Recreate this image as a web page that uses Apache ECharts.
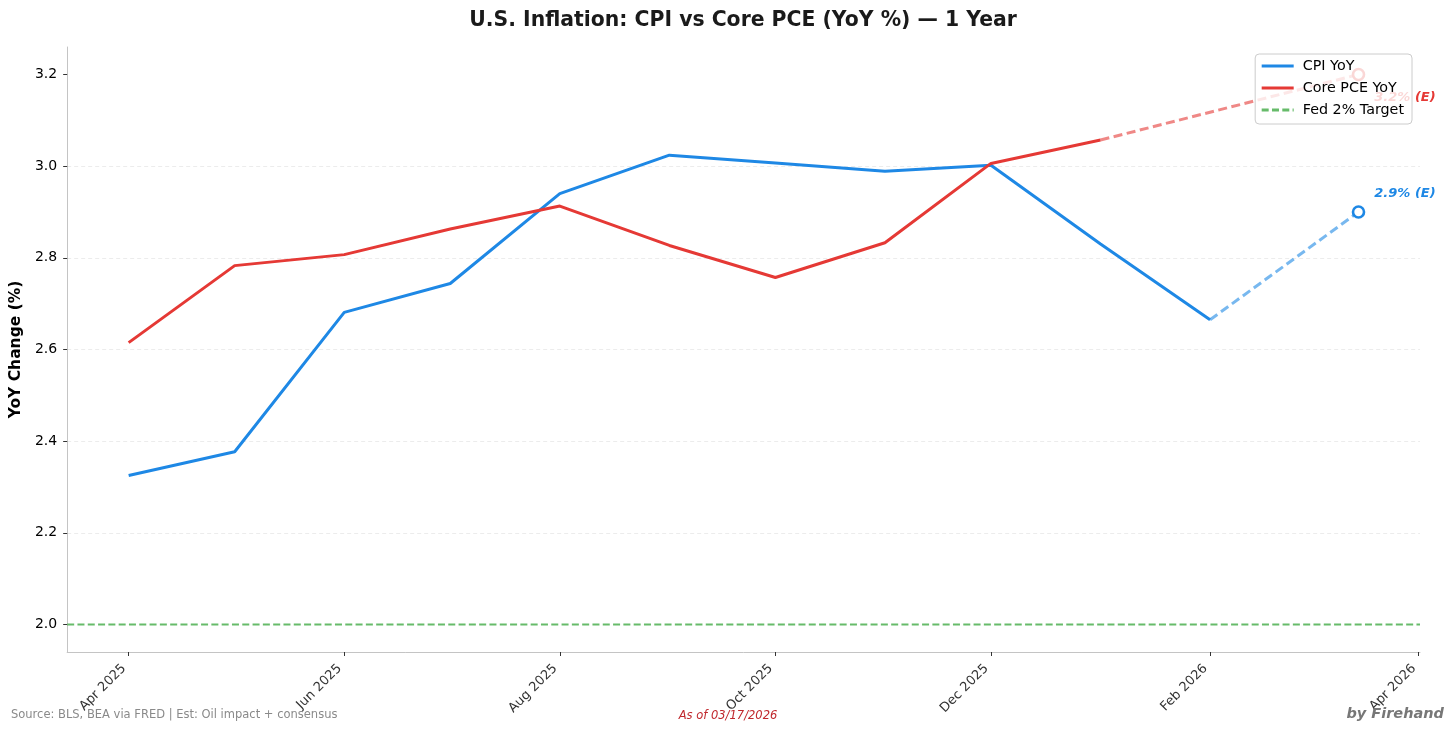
<!DOCTYPE html>
<html>
<head>
<meta charset="utf-8">
<script src="https://cdn.jsdelivr.net/npm/echarts@6/dist/echarts.min.js"></script>
<style>
html,body{margin:0;padding:0;background:#fff}
#chart{width:1456px;height:732px}
</style>
</head>
<body>
<div id="chart"></div>
<script>
// ---- Data ----
const cpiDates = ['2025-04-01','2025-05-01','2025-06-01','2025-07-01','2025-08-01','2025-09-01','2025-10-01','2025-11-01','2025-12-01','2026-01-01','2026-02-01'];
const cpiValues = [2.325, 2.377, 2.681, 2.744, 2.940, 3.024, 3.007, 2.989, 3.002, 2.830, 2.665];
const pceDates = ['2025-04-01','2025-05-01','2025-06-01','2025-07-01','2025-08-01','2025-09-01','2025-10-01','2025-11-01','2025-12-01','2026-01-01'];
const pceValues = [2.615, 2.783, 2.807, 2.863, 2.913, 2.827, 2.757, 2.833, 3.006, 3.057];
const estimateDate = '2026-03-15';
const cpiEstimate = 2.9;
const pceEstimate = 3.2;
const cpiEstimateLabel = '2.9% (E)';
const pceEstimateLabel = '3.2% (E)';
const fedTarget = 2.0;
const xTickDates = ['2025-04-01','2025-06-01','2025-08-01','2025-10-01','2025-12-01','2026-02-01','2026-04-01'];
const xTickLabels = ['Apr 2025','Jun 2025','Aug 2025','Oct 2025','Dec 2025','Feb 2026','Apr 2026'];
const yTicks = [2.0, 2.2, 2.4, 2.6, 2.8, 3.0, 3.2];

// ---- Helpers ----
function ts(s){ const p = s.split('-').map(Number); return Date.UTC(p[0], p[1]-1, p[2]); }
const FONT = 'DejaVu Sans';
const BLUE = '#1E88E5', RED = '#E53935', GREEN = '#4CAF50';

const firstT = ts(cpiDates[0]);
const lastT = ts(estimateDate);
const pad = (lastT - firstT) * 0.05;
const xMin = firstT - pad, xMax = lastT + pad;
const yMin = fedTarget - (pceEstimate - fedTarget) * 0.05;
const yMax = pceEstimate + (pceEstimate - fedTarget) * 0.05;

const xTickTs = xTickDates.map(ts);

const cpiData = cpiDates.map((d,i)=>[ts(d), cpiValues[i]]);
const pceData = pceDates.map((d,i)=>[ts(d), pceValues[i]]);

function estSeries(name, fromDate, fromVal, toVal, color, light, labelText, offsetY){
  return {
    name: name, type: 'line', z: 3,
    showSymbol: true, symbol: 'none',
    lineStyle: {color: light, width: 3, type: [9, 4.5]},
    itemStyle: {color: color},
    data: [
      {value: [ts(fromDate), fromVal], symbol: 'none'},
      {value: [ts(estimateDate), toVal], symbol: 'circle', symbolSize: 11,
        itemStyle: {color: '#fff', borderColor: color, borderWidth: 2.6},
        label: {show: true, position: 'right', distance: 9, offset: [0, offsetY],
          formatter: labelText, color: color, fontFamily: FONT, fontSize: 13,
          fontWeight: 'bold', fontStyle: 'italic'}}
    ]
  };
}

const chart = echarts.init(document.getElementById('chart'), null, {renderer: 'canvas'});
chart.setOption({
  animation: false,
  backgroundColor: '#fff',
  textStyle: {fontFamily: FONT},
  title: {
    text: 'U.S. Inflation: CPI vs Core PCE (YoY %) — 1 Year',
    left: 738, top: 6, textAlign: 'center',
    textStyle: {fontFamily: FONT, fontSize: 20.4, fontWeight: 'bold', color: '#1a1a1a'}
  },
  grid: {left: 67, right: 36, top: 47, bottom: 80, containLabel: false},
  legend: {
    data: ['CPI YoY', 'Core PCE YoY', 'Fed 2% Target'],
    orient: 'vertical', right: 44, top: 54,
    itemWidth: 32, itemHeight: 14, itemGap: 8,
    padding: [5, 8, 7, 5],
    backgroundColor: 'rgba(255,255,255,0.8)',
    borderColor: '#cccccc', borderWidth: 1, borderRadius: 4,
    itemStyle: {opacity: 0},
    lineStyle: {width: 3},
    textStyle: {fontFamily: FONT, fontSize: 14.3, color: '#000', padding: [0, 0, 0, 4]},
    z: 10
  },
  xAxis: {
    type: 'value', min: xMin, max: xMax, scale: true,
    axisLine: {show: true, lineStyle: {color: '#c4c4c4', width: 1}},
    axisTick: {show: true, length: 4, lineStyle: {color: '#333'}, customValues: xTickTs},
    axisLabel: {
      customValues: xTickTs, rotate: 45, margin: 19, verticalAlign: 'bottom', align: 'right',
      fontFamily: FONT, fontSize: 13, color: '#333',
      formatter: function(v){ const i = xTickTs.indexOf(v); return i >= 0 ? xTickLabels[i] : ''; }
    },
    splitLine: {show: false}
  },
  yAxis: {
    type: 'value', min: yMin, max: yMax, minInterval: 0.2, maxInterval: 0.2,
    name: 'YoY Change (%)', nameLocation: 'middle', nameGap: 42,
    nameTextStyle: {fontFamily: FONT, fontSize: 15.5, fontWeight: 'bold', color: '#000'},
    axisLine: {show: true, lineStyle: {color: '#c4c4c4', width: 1}},
    axisTick: {show: true, length: 4, lineStyle: {color: '#333'}, customValues: yTicks},
    axisLabel: {
      customValues: yTicks, margin: 10, fontFamily: FONT, fontSize: 14, color: '#000',
      formatter: function(v){ return Number(v).toFixed(1); }
    },
    splitLine: {show: true, showMinLine: false, showMaxLine: false,
      lineStyle: {color: '#ececec', width: 1, type: [4, 3]}}
  },
  series: [
    {
      name: 'Fed 2% Target', type: 'line', symbol: 'none', z: 2,
      lineStyle: {color: GREEN, width: 2, type: [7, 3.3], opacity: 0.85},
      itemStyle: {color: GREEN},
      data: [[xMin, fedTarget], [xMax, fedTarget]]
    },
    {
      name: 'CPI YoY', type: 'line', symbol: 'none', z: 3,
      lineStyle: {color: BLUE, width: 3},
      itemStyle: {color: BLUE},
      data: cpiData
    },
    estSeries('CPI estimate', cpiDates[cpiDates.length-1], cpiValues[cpiValues.length-1], cpiEstimate,
      BLUE, 'rgba(30,136,229,0.6)', cpiEstimateLabel, -18),
    {
      name: 'Core PCE YoY', type: 'line', symbol: 'none', z: 4,
      lineStyle: {color: RED, width: 3},
      itemStyle: {color: RED},
      data: pceData
    },
    estSeries('Core PCE estimate', pceDates[pceDates.length-1], pceValues[pceValues.length-1], pceEstimate,
      RED, 'rgba(229,57,53,0.6)', pceEstimateLabel, 23)
  ],
  graphic: [
    {type: 'text', left: 11, top: 709, z: 10,
      style: {text: 'Source: BLS, BEA via FRED | Est: Oil impact + consensus', fill: '#8a8a8a',
        font: '11.5px "DejaVu Sans"'}},
    {type: 'text', x: 728, y: 716, z: 10,
      style: {text: 'As of 03/17/2026', fill: '#c0282d', textAlign: 'center', textVerticalAlign: 'middle',
        font: 'italic 11.5px "DejaVu Sans"'}},
    {type: 'text', x: 1444, y: 714, z: 10,
      style: {text: 'by Firehand', fill: '#777', textAlign: 'right', textVerticalAlign: 'middle',
        font: 'italic bold 14.5px "DejaVu Sans"'}}
  ]
});
</script>
</body>
</html>
